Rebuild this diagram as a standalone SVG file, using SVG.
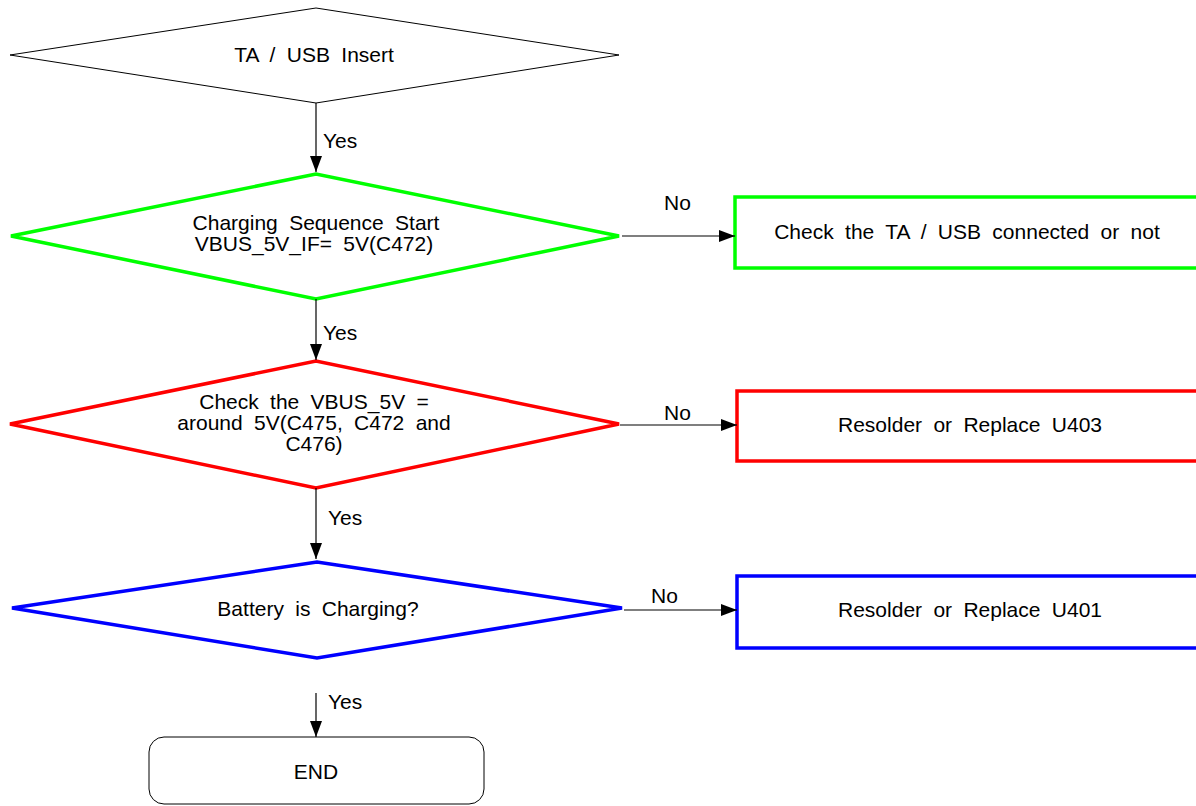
<svg xmlns="http://www.w3.org/2000/svg" width="1196" height="806" viewBox="0 0 1196 806">
<style>
text{font-family:"Liberation Sans",Arial,sans-serif;font-size:21px;fill:#000;word-spacing:5.5px}
.c{text-anchor:middle}
.g{stroke:#00ff00;stroke-width:3.5;fill:#fff}
.r{stroke:#ff0000;stroke-width:3.5;fill:#fff}
.b{stroke:#0000ff;stroke-width:3.5;fill:#fff}
.k{stroke:#000;stroke-width:1;fill:#fff}
.ln{stroke:#000;stroke-width:1.2;fill:none;marker-end:url(#ah)}
</style>
<defs>
<marker id="ah" markerUnits="userSpaceOnUse" markerWidth="16" markerHeight="12" refX="16" refY="6" orient="auto">
<path d="M0,0 L16,6 L0,12 Z" fill="#000"/>
</marker>
</defs>
<rect width="1196" height="806" fill="#fff"/>
<g id="start">
<polygon class="k" points="10,55 316,8 619,55 316,103"/>
<text class="c" x="314" y="62">TA / USB Insert</text>
</g>
<g id="charging">
<polygon class="g" points="11,236 316,174 619,236 316,299"/>
<text class="c" x="316" y="230">Charging Sequence Start</text>
<text class="c" x="314" y="251">VBUS_5V_IF= 5V(C472)</text>
</g>
<g id="check-ta">
<rect class="g" x="735" y="197" width="480" height="71"/>
<text class="c" x="967" y="239">Check the TA / USB connected or not</text>
</g>
<g id="vbus">
<polygon class="r" points="10,424 316,361 619,424 316,488"/>
<text class="c" x="314" y="409">Check the VBUS_5V =</text>
<text class="c" x="314" y="430">around 5V(C475, C472 and</text>
<text class="c" x="314" y="451">C476)</text>
</g>
<g id="u403">
<rect class="r" x="737" y="391" width="480" height="70"/>
<text class="c" x="970" y="432">Resolder or Replace U403</text>
</g>
<g id="battery">
<polygon class="b" points="12,608 317,562 622,608 317,658"/>
<text class="c" x="318" y="616">Battery is Charging?</text>
</g>
<g id="u401">
<rect class="b" x="737" y="576" width="480" height="72"/>
<text class="c" x="970" y="617">Resolder or Replace U401</text>
</g>
<g id="end">
<rect class="k" x="149" y="737" width="335" height="67" rx="15"/>
<text class="c" x="316" y="779">END</text>
</g>
<g id="connectors">
<line class="ln" x1="316" y1="103" x2="316" y2="172"/>
<text x="323" y="148">Yes</text>
<line class="ln" x1="622" y1="236" x2="735" y2="236"/>
<text x="664" y="210">No</text>
<line class="ln" x1="316" y1="299" x2="316" y2="360"/>
<text x="323" y="340">Yes</text>
<line class="ln" x1="620" y1="425" x2="737" y2="425"/>
<text x="664" y="420">No</text>
<line class="ln" x1="316" y1="488" x2="316" y2="559"/>
<text x="328" y="525">Yes</text>
<line class="ln" x1="624" y1="610" x2="737" y2="610"/>
<text x="651" y="603">No</text>
<line class="ln" x1="316" y1="693" x2="316" y2="737"/>
<text x="328" y="709">Yes</text>
</g>
</svg>
